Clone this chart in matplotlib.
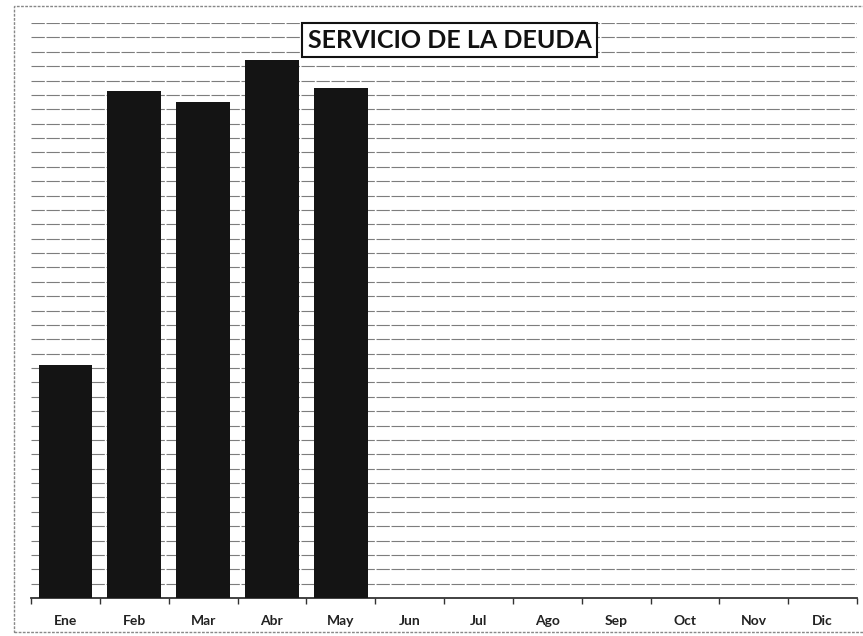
import matplotlib
matplotlib.use("Agg")
import matplotlib.pyplot as plt
from matplotlib.patches import Rectangle

meses = ['Ene', 'Feb', 'Mar', 'Abr', 'May', 'Jun', 'Jul', 'Ago', 'Sep', 'Oct', 'Nov', 'Dic']
# servicio de la deuda (unidades, sin escala visible)
valores = [16.2, 35.3, 34.5, 37.4, 35.5, 0, 0, 0, 0, 0, 0, 0]

plt.rcParams['font.family'] = ['Lato', 'DejaVu Sans']

fig = plt.figure(figsize=(8.63, 6.36), dpi=100)
ax = fig.add_axes([31 / 863, 38 / 636, 826 / 863, 575 / 636])

x = list(range(len(meses)))
ax.bar(x, valores, width=0.78, color='#141414', zorder=3)

ax.set_xlim(-0.5, 11.5)
ax.set_ylim(0, 40)
ax.set_yticks(range(1, 41))
ax.yaxis.grid(True, color='#7d7d7d', linewidth=0.8, linestyle=(0, (12, 1.5)), zorder=1)
ax.tick_params(axis='y', left=False, labelleft=False)

ax.set_xticks(x)
ax.set_xticklabels(meses, fontsize=10, fontweight='bold', color='#222222')
ax.set_xticks([i - 0.5 for i in range(13)], minor=True)
ax.tick_params(axis='x', which='major', length=0, pad=12)
ax.tick_params(axis='x', which='minor', length=4, width=1, color='#333333', direction='out')

for s in ['top', 'right', 'left']:
    ax.spines[s].set_visible(False)
ax.spines['bottom'].set_color('#333333')
ax.spines['bottom'].set_linewidth(1.3)

ax.text(0.507, 0.970, 'SERVICIO DE LA DEUDA', transform=ax.transAxes,
        ha='center', va='center', fontsize=18, fontweight='bold', color='#111111', zorder=5,
        bbox=dict(boxstyle='square,pad=0.22', facecolor='white', edgecolor='#111111', linewidth=1.5))

# marco exterior del grafico
fig.patches.append(Rectangle((14 / 863, 4 / 636), 850 / 863, 626 / 636, transform=fig.transFigure,
                             fill=False, edgecolor='#888888', linewidth=1, linestyle=(0, (2, 1))))

fig.savefig('out.png', dpi=100)
